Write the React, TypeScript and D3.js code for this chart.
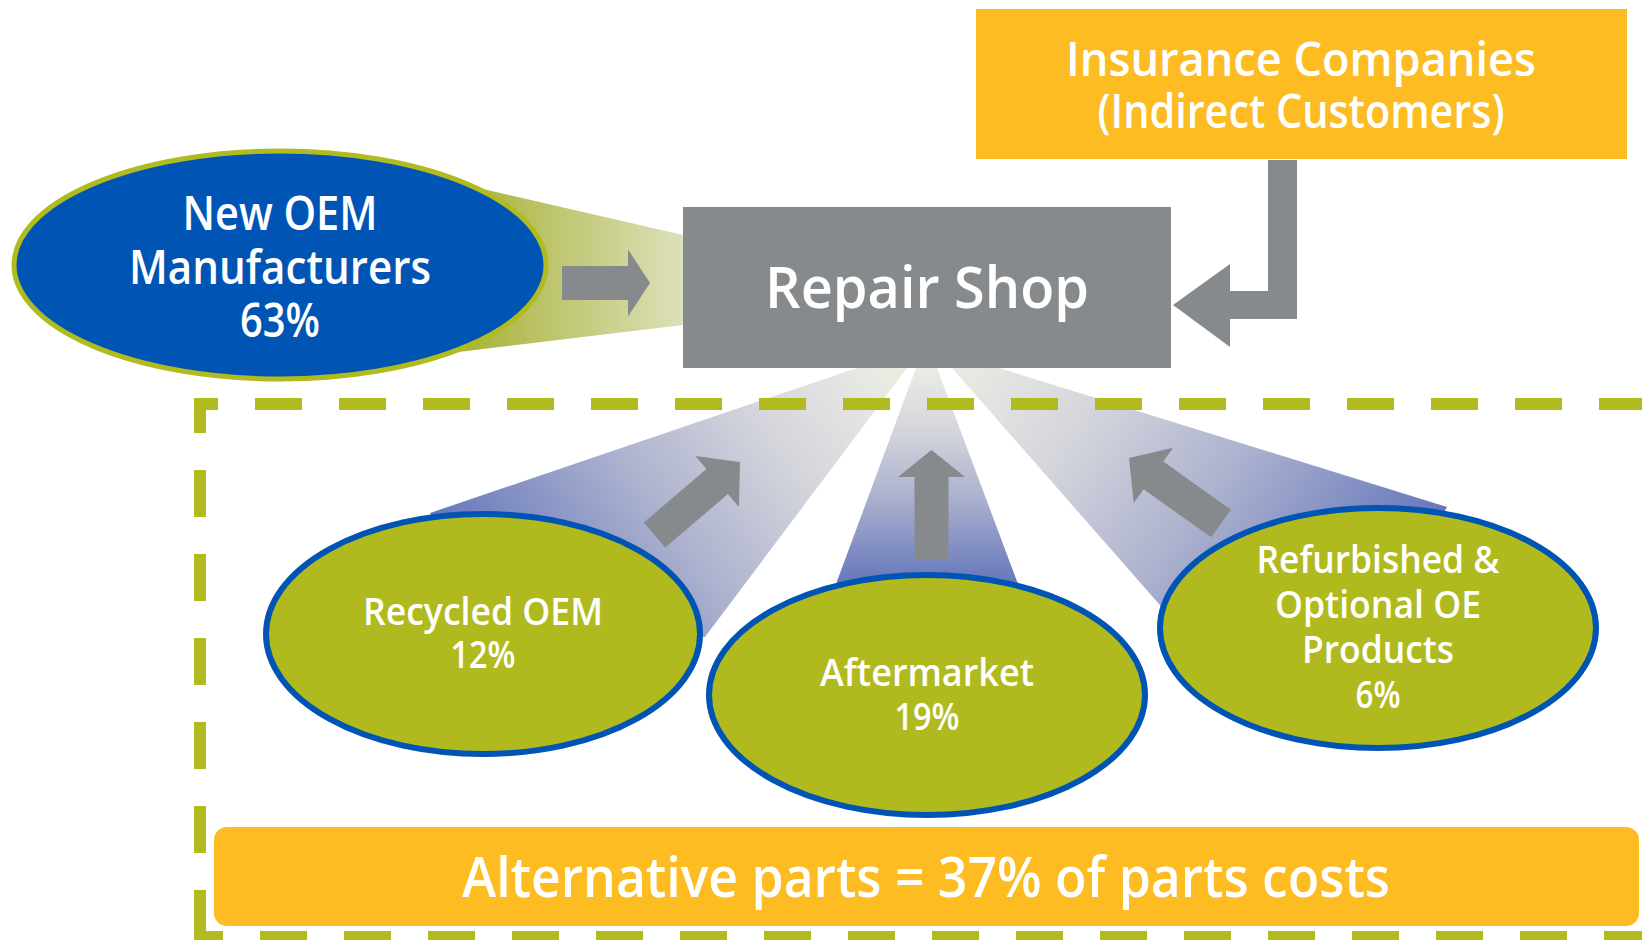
import React from "react";
import * as d3 from "d3";

// ---------- data ----------
const sourceNames = ["New OEM Manufacturers", "Recycled OEM", "Aftermarket", "Refurbished & Optional OE Products"];
const sourceShares = [63, 12, 19, 6];
const sourceLabelLines = [["New OEM", "Manufacturers"], ["Recycled OEM"], ["Aftermarket"], ["Refurbished &", "Optional OE", "Products"]];
const hubLabel = "Repair Shop";
const payerLines = ["Insurance Companies", "(Indirect Customers)"];
const alternativeShare = 37;
const summaryText = `Alternative parts = ${alternativeShare}% of parts costs`;

// ---------- layout / styles ----------
const W = 1642, H = 940;
const C = {
  blue: "#0055b4", olive: "#b0ba1e", oliveLine: "#b1bb1f", gray: "#868a8c", yellow: "#fdbc21",
};
const FONT = "'Open Sans', 'DejaVu Sans', sans-serif";

type Pt = [number, number];
const ellipses = [
  { cx: 280, cy: 265, rx: 266, ry: 114, fill: C.blue, stroke: C.oliveLine, sw: 5, fs: 47,
    base: [230, 284, 337], widths: [195, 302, 80] },
  { cx: 483, cy: 634, rx: 217, ry: 120, fill: C.olive, stroke: C.blue, sw: 6, fs: 37,
    base: [625, 668], widths: [240, 65] },
  { cx: 927, cy: 695, rx: 218, ry: 120, fill: C.olive, stroke: C.blue, sw: 6, fs: 37,
    base: [686, 730], widths: [214, 65] },
  { cx: 1378, cy: 628, rx: 218, ry: 120, fill: C.olive, stroke: C.blue, sw: 6, fs: 37,
    base: [573, 618, 663, 708], widths: [243, 206, 152, 45] },
];

const beams: { pts: Pt[]; g0: Pt; g1: Pt; id: string }[] = [
  { id: "b1", pts: [[430, 513], [857, 368], [907, 368], [705, 637], [483, 634]], g0: [430, 513], g1: [789, 244] },
  { id: "b2", pts: [[836, 584], [916, 368], [937, 368], [1018, 584], [927, 695]], g0: [927, 584], g1: [927, 368] },
  { id: "b3", pts: [[952, 368], [999, 368], [1447, 507], [1378, 628], [1180, 628]], g0: [1447, 507], g1: [1063, 219] },
];
const oemBeam: Pt[] = [[400, 170], [683, 235], [683, 325], [400, 359]];

// block arrows: tail centre, tip, shaft width, head width, head length
const arrows = [
  { tail: [562, 283] as Pt, tip: [650, 283] as Pt, sw: 34, hw: 67, hl: 22 },
  { tail: [654.5, 535] as Pt, tip: [740, 462] as Pt, sw: 33, hw: 67, hl: 30 },
  { tail: [931.5, 559] as Pt, tip: [931.5, 450] as Pt, sw: 34, hw: 67, hl: 27 },
  { tail: [1221, 523.5] as Pt, tip: [1129, 458] as Pt, sw: 34, hw: 68, hl: 30 },
];

function arrowPts(a: { tail: Pt; tip: Pt; sw: number; hw: number; hl: number }): Pt[] {
  const [x0, y0] = a.tail, [x1, y1] = a.tip;
  const L = Math.hypot(x1 - x0, y1 - y0);
  const ux = (x1 - x0) / L, uy = (y1 - y0) / L;
  const nx = -uy, ny = ux;
  const bx = x1 - ux * a.hl, by = y1 - uy * a.hl;
  const s = a.sw / 2, h = a.hw / 2;
  return [
    [x0 + nx * s, y0 + ny * s], [bx + nx * s, by + ny * s], [bx + nx * h, by + ny * h], [x1, y1],
    [bx - nx * h, by - ny * h], [bx - nx * s, by - ny * s], [x0 - nx * s, y0 - ny * s],
  ];
}

const insuranceArrow: Pt[] = [[1268, 160], [1297, 160], [1297, 319], [1230, 319], [1230, 347], [1173, 305], [1230, 264], [1230, 291], [1268, 291]];

const poly = d3.line<Pt>().x(d => d[0]).y(d => d[1]).curve(d3.curveLinearClosed);

export default function App() {
  const txt = (s: string, x: number, y: number, fs: number, w: number, key?: string | number) => (
    <text key={key} x={x} y={y} fontSize={fs} fontFamily={FONT} fontWeight={600} fill="#fff"
      textAnchor="middle" textLength={w} lengthAdjust="spacingAndGlyphs">{s}</text>
  );
  return (
    <svg width={W} height={H} viewBox={`0 0 ${W} ${H}`} style={{ position: "absolute", left: 0, top: 0, background: "#fff" }}>
      <defs>
        <linearGradient id="gOem" gradientUnits="userSpaceOnUse" x1={471} y1={0} x2={683} y2={0}>
          <stop offset="0" stopColor="#aab43e" />
          <stop offset="1" stopColor="#dde0b9" />
        </linearGradient>
        {beams.map(b => (
          <linearGradient key={b.id} id={b.id} gradientUnits="userSpaceOnUse" x1={b.g0[0]} y1={b.g0[1]} x2={b.g1[0]} y2={b.g1[1]}>
            <stop offset="0" stopColor="#6577bb" />
            <stop offset="0.42" stopColor="#aeb3cf" />
            <stop offset="0.72" stopColor="#d5d6dc" />
            <stop offset="1" stopColor="#ebebe4" />
          </linearGradient>
        ))}
      </defs>

      {/* beams */}
      <path d={poly(oemBeam)!} fill="url(#gOem)" />
      {beams.map(b => <path key={b.id} d={poly(b.pts)!} fill={`url(#${b.id})`} />)}

      {/* dashed boundary */}
      <path d={`M200,937 V404 H1660`} fill="none" stroke={C.oliveLine} strokeWidth={12} strokeDasharray="47 37" strokeLinejoin="miter" />
      <path d={`M194,937 H1660`} fill="none" stroke={C.oliveLine} strokeWidth={12} strokeDasharray="47 37" strokeDashoffset={18} />

      {/* ellipses */}
      {ellipses.map((e, i) => (
        <g key={sourceNames[i]}>
          <ellipse cx={e.cx} cy={e.cy} rx={e.rx} ry={e.ry} fill={e.fill} stroke={e.stroke} strokeWidth={e.sw} />
          {[...sourceLabelLines[i], `${sourceShares[i]}%`].map((s, j) => txt(s, e.cx, e.base[j], e.fs, e.widths[j], j))}
        </g>
      ))}

      {/* arrows */}
      {arrows.map((a, i) => <path key={i} d={poly(arrowPts(a))!} fill={C.gray} />)}
      <path d={poly(insuranceArrow)!} fill={C.gray} />

      {/* repair shop */}
      <rect x={683} y={207} width={488} height={161} fill={C.gray} />
      {txt(hubLabel, 927, 308, 57, 324)}

      {/* insurance */}
      <rect x={976} y={9} width={651} height={150} fill={C.yellow} />
      {txt(payerLines[0], 1301, 76, 47, 470)}
      {txt(payerLines[1], 1301, 128, 47, 407)}

      {/* summary */}
      <rect x={214} y={827} width={1425} height={99} rx={13} ry={13} fill={C.yellow} />
      {txt(summaryText, 926, 897, 56, 928)}
    </svg>
  );
}
